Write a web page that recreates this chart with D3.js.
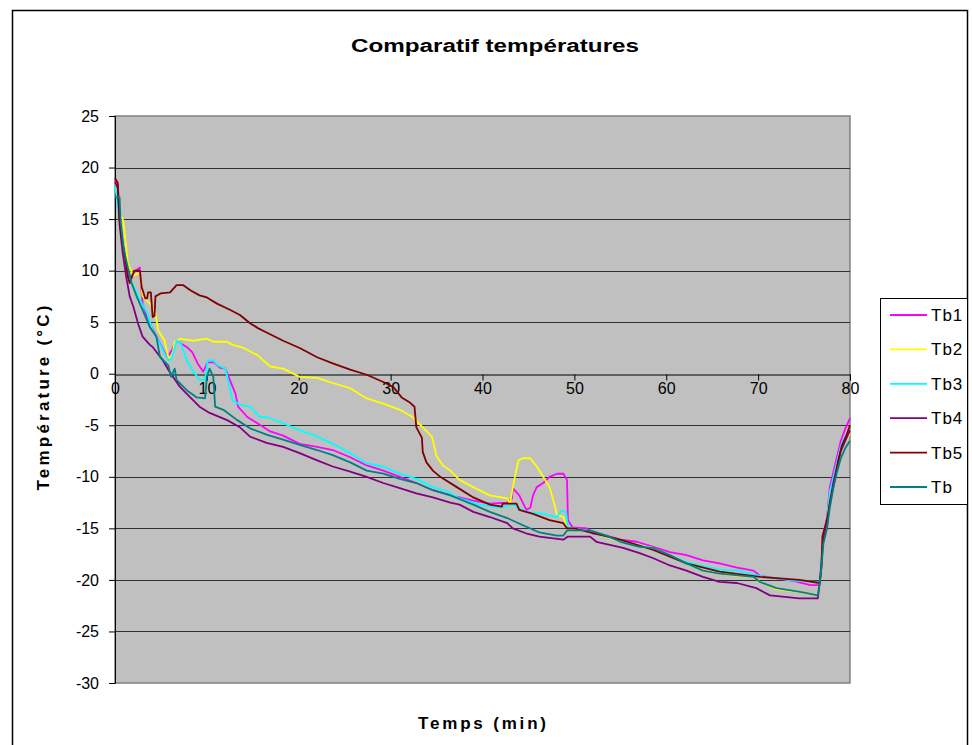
<!DOCTYPE html>
<html><head><meta charset="utf-8">
<script src="https://cdn.jsdelivr.net/npm/d3@7"></script>
<style>
html,body{margin:0;padding:0;background:#fff;}
svg{display:block;font-family:"Liberation Sans",Arial,sans-serif;}
</style></head>
<body>
<svg id="chart" width="972" height="745"></svg>
<script>
// ---- data (time in min, temperature in °C) ----
const seriesNames = ["Tb1","Tb2","Tb3","Tb4","Tb5","Tb"];
const seriesColors = ["#FF00FF","#FFFF00","#00FFFF","#800080","#800000","#008080"];
const xTicks = [0,10,20,30,40,50,60,70,80];
const yTicks = [25,20,15,10,5,0,-5,-10,-15,-20,-25,-30];

const tb1 = [[0,18.8],[0.3,18.3],[0.5,15],[0.9,12.5],[1.3,10],[1.6,9],[2.0,9.8],[2.7,10.3],[3.0,6.8],[3.5,5.5],[4.0,4.5],[4.9,2.9],[5.7,1.6],[6.2,2.3],[6.7,3.2],[7.8,2.6],[8.4,2.1],[9.0,1.0],[9.6,0.2],[10.1,1.1],[10.8,1.1],[11.4,0.6],[12.0,0.5],[12.5,-0.6],[13.1,-1.9],[13.4,-3.2],[14.4,-4.2],[15.5,-4.8],[16.9,-5.6],[18.3,-6.0],[20.1,-6.8],[22,-7.1],[23.7,-7.4],[25.6,-8.1],[27.4,-8.9],[29.2,-9.4],[31,-10],[32.8,-10.6],[34.6,-11.3],[37,-11.9],[39,-12.3],[40.8,-12.6],[42.7,-12.5],[43.2,-12.1],[43.3,-11.1],[44,-11.8],[44.6,-12.9],[44.8,-13.2],[45.2,-13],[45.5,-11.8],[45.9,-11],[46.6,-10.6],[47.3,-10],[48.1,-9.7],[48.8,-9.7],[49.2,-10.3],[49.3,-14.2],[49.8,-14.9],[51.4,-15],[52,-15.5],[53.5,-15.7],[55,-16.1],[56.8,-16.3],[58.6,-16.8],[60.4,-17.3],[62.2,-17.6],[64,-18.1],[65.8,-18.4],[67.7,-18.8],[69.5,-19.1],[70.2,-19.6],[72.4,-19.9],[73.8,-20.1],[75.7,-20.5],[76.7,-20.5],[76.9,-18],[77.1,-15.5],[77.5,-14],[77.8,-11],[78.2,-9.5],[78.6,-8],[79,-6.5],[79.5,-5.3],[80,-4.3]];

const tb2 = [[0,18.5],[0.3,18],[0.5,15.5],[0.9,14.9],[1.4,10.7],[2,9.5],[2.7,9.8],[3.0,7.5],[3.8,6.8],[4.4,5.9],[4.7,4.2],[5.4,3.2],[5.8,1.6],[6.2,1.5],[6.5,3.1],[7.1,3.4],[8.5,3.2],[10,3.4],[10.7,3.1],[12.2,3.1],[12.8,2.8],[14,2.5],[15.5,1.8],[16.9,0.7],[18.3,0.5],[20.1,-0.3],[22,-0.4],[23.7,-0.9],[25.6,-1.4],[27.4,-2.4],[29.2,-2.9],[31,-3.5],[32.4,-4.2],[33.5,-5.2],[34.5,-6.1],[35,-8.0],[35.7,-8.9],[36.5,-9.4],[37.5,-10.3],[39,-11],[40.8,-11.8],[42.7,-12.1],[43,-12.6],[43.3,-11],[43.9,-8.4],[44.4,-8.2],[45.2,-8.2],[45.9,-9],[46.6,-10],[47.3,-11],[47.9,-12.9],[48.1,-13.7],[48.8,-13.9],[49.2,-14.9],[50,-15],[52,-15.4],[55,-16.3],[58.6,-16.9],[60.4,-17.6],[62.2,-18.4],[64,-19.1],[65.8,-19.4],[67.7,-19.6],[69.5,-19.7],[70.2,-20.2],[72,-20.9],[74.9,-21.2],[76.5,-21.5],[76.8,-19.7],[77.1,-16],[77.5,-14.5],[77.8,-12],[78.2,-10.5],[78.6,-9],[79,-7.5],[79.5,-6.5],[80,-5.8]];

const tb3 = [[0,18.3],[0.5,15],[0.9,12],[1.3,9.5],[2,8.5],[2.5,7.5],[3.5,5.9],[4.1,4.2],[5.2,2.3],[5.8,1.3],[6.2,1.5],[6.7,3.2],[7.2,2.9],[7.8,1.3],[8.4,0.4],[9.2,-0.6],[9.8,-0.6],[10.1,1.3],[10.7,1.3],[11.2,0.8],[12,0.5],[12.3,-0.6],[12.8,-2.6],[13.6,-3],[14.7,-3.2],[15.8,-4.2],[16.5,-4.2],[18.3,-4.8],[20.1,-5.5],[22,-6.1],[23.7,-6.8],[25.6,-7.7],[27.4,-8.7],[29.2,-9],[31,-9.7],[32.8,-10.2],[34.6,-11],[36.1,-11.4],[37.5,-12.1],[39.7,-12.7],[41.9,-13],[43.3,-12.7],[44.8,-13.4],[46.6,-13.6],[48.1,-13.9],[48.6,-13.3],[49.1,-13.4],[49.3,-14.9],[50,-15],[52,-15.4],[55,-16.2],[58.6,-17],[62.2,-18.3],[65.8,-19],[67.7,-19.1],[70.2,-19.6],[72.4,-19.9],[74.2,-20.1],[76.7,-20.2],[76.9,-18],[77.1,-15.6],[77.5,-14.2],[77.8,-11.5],[78.2,-10],[78.6,-8.5],[79,-7],[79.5,-6],[80,-5.5]];

const tb4 = [[0,18.6],[0.3,18],[0.5,14.5],[0.8,12],[1.2,9.5],[1.6,7.5],[2,6.5],[2.5,4.9],[3,3.6],[3.8,2.8],[4.1,2.6],[5.2,1.3],[6,0.1],[7.1,-1.3],[8.2,-2.3],[9.2,-3.2],[10.3,-3.8],[12.2,-4.5],[13.6,-5.2],[14.7,-6.1],[16.5,-6.7],[18.3,-7.1],[20.1,-7.7],[22,-8.4],[23.7,-9],[25.6,-9.5],[27.4,-10],[29.2,-10.6],[31,-11.1],[32.8,-11.6],[34.6,-12],[36.5,-12.5],[37.5,-12.7],[39,-13.4],[40.8,-13.9],[42.7,-14.5],[43.3,-15],[44.8,-15.5],[46.2,-15.8],[48.8,-16.1],[49.3,-15.8],[51.7,-15.8],[52.4,-16.3],[55.3,-16.9],[57.1,-17.4],[58.6,-17.9],[60.4,-18.6],[62.2,-19.1],[64,-19.7],[65.8,-20.2],[67.7,-20.3],[69.8,-20.8],[71.3,-21.5],[74.5,-21.8],[76.5,-21.8],[76.8,-19.5],[77.1,-16],[77.5,-14.8],[77.8,-12.5],[78.2,-10.5],[78.6,-9],[79,-7.5],[79.5,-6.5],[80,-5.5]];

const tb5 = [[0,19],[0.3,18.5],[0.5,14.9],[0.7,13.3],[1.1,11.3],[1.4,9.4],[1.6,8.8],[2.1,10],[2.7,10],[2.9,8.4],[3.3,7.3],[3.5,7.3],[3.6,7.9],[3.9,7.9],[4.1,5.5],[4.3,5.6],[4.4,7.5],[5,7.8],[6,7.9],[6.7,8.6],[7.4,8.6],[8.2,8.1],[9.2,7.6],[10,7.4],[11.1,6.8],[12.5,6.2],[13.6,5.7],[14.7,4.9],[15.6,4.4],[16.5,4],[18.3,3.2],[20.1,2.5],[22,1.6],[23.7,1],[25.6,0.4],[27.4,-0.1],[29.2,-0.8],[30.3,-1.3],[31.2,-2.3],[32.1,-2.8],[32.6,-3.2],[32.8,-5.2],[33.4,-6.2],[33.5,-7.6],[33.9,-8.6],[34.6,-9.4],[35.4,-10],[37.2,-11],[39,-12],[40.8,-12.7],[42.1,-12.9],[42.2,-12.6],[43.7,-12.6],[44,-13.2],[45.5,-13.6],[47.3,-14.2],[48.8,-14.5],[49.2,-15],[50,-15],[51.7,-15.4],[55,-16.1],[58.6,-17.1],[62.2,-18.4],[65.8,-19.2],[70.2,-19.7],[71.6,-19.8],[74.5,-20],[76.7,-20.3],[76.9,-18.7],[77,-15.8],[77.4,-14.5],[77.7,-13.2],[77.9,-12.2],[78.3,-10.5],[78.7,-8.5],[79.1,-7],[79.6,-6],[80,-5]];

const tb = [[0,17.1],[0.5,17.1],[0.6,14.9],[0.9,12.3],[1.3,10.7],[1.8,8.8],[2.4,7.4],[3,6.2],[3.8,4.5],[4.5,3.6],[4.9,1.6],[5.8,0.8],[6.1,-0.3],[6.5,0.5],[6.7,-0.6],[7.8,-1.6],[8.9,-2.3],[9.8,-2.4],[10,-0.3],[10.3,0.5],[10.7,-0.3],[10.9,-3.2],[11.8,-3.5],[13.3,-4.5],[14.7,-5.3],[16.5,-5.9],[18.3,-6.4],[20.1,-6.9],[22,-7.4],[23.7,-7.9],[25.6,-8.6],[27.4,-9.4],[29.2,-9.7],[31,-10.2],[32.8,-10.6],[34.6,-11.3],[36.5,-11.8],[39,-12.7],[40.8,-13.4],[42.7,-14],[44.4,-14.7],[46.2,-15.4],[48.1,-15.7],[48.8,-15.7],[49.2,-15.2],[51.7,-15.2],[53.5,-15.7],[55,-16.3],[57.1,-16.8],[58.6,-16.9],[60.4,-17.6],[62.2,-18.4],[64,-19.1],[65.8,-19.4],[69.5,-19.7],[70.2,-20.2],[72,-20.8],[74.9,-21.2],[76.5,-21.5],[76.8,-19.7],[77.1,-16.5],[77.5,-15],[77.8,-13],[78.2,-11],[78.6,-9.5],[79,-8.2],[79.5,-7.2],[80,-6.5]];

const seriesData = [tb1, tb2, tb3, tb4, tb5, tb];

// ---- drawing ----
const svg = d3.select("#chart");
const plot = {left:115, right:850, top:116, bottom:683};
const x = d3.scaleLinear().domain([0,80]).range([plot.left, plot.right]);
const y = d3.scaleLinear().domain([-30,25]).range([plot.bottom, plot.top]);

// outer chart border
svg.append("rect").attr("x",12.5).attr("y",10.5).attr("width",955).attr("height",760)
  .attr("fill","#fff").attr("stroke","#000").attr("stroke-width",1.5);

// plot area
svg.append("rect").attr("x",plot.left).attr("y",plot.top)
  .attr("width",plot.right-plot.left).attr("height",plot.bottom-plot.top)
  .attr("fill","#C0C0C0").attr("stroke","#808080").attr("stroke-width",1.5);

// gridlines
svg.append("g").selectAll("line").data(yTicks.filter(v=>v!==25 && v!==-30 && v!==0)).join("line")
  .attr("x1",plot.left).attr("x2",plot.right)
  .attr("y1",d=>Math.round(y(d))+0.5).attr("y2",d=>Math.round(y(d))+0.5)
  .attr("stroke","#303030").attr("stroke-width",1);

// y axis
const yAxis = d3.axisLeft(y).tickValues(yTicks).tickSize(6).tickPadding(10).tickFormat(d=>String(d));
const gy = svg.append("g").attr("transform",`translate(${plot.left},0)`).call(yAxis);
gy.select(".domain").attr("stroke","#000");
gy.selectAll(".tick line").attr("stroke","#000");
gy.selectAll("text").attr("font-size",16).attr("fill","#000").attr("font-family","Liberation Sans, Arial, sans-serif");

// x axis at y = 0
const xAxis = d3.axisBottom(x).tickValues(xTicks).tickSize(6).tickPadding(2).tickFormat(d=>String(d));
const gx = svg.append("g").attr("transform",`translate(0,${Math.round(y(0))+0.5})`).call(xAxis);
gx.select(".domain").attr("stroke","#000");
gx.selectAll(".tick line").attr("stroke","#000");
gx.selectAll("text").attr("font-size",16).attr("fill","#000").attr("font-family","Liberation Sans, Arial, sans-serif");

// series lines
const line = d3.line().x(d=>x(d[0])).y(d=>y(d[1])).curve(d3.curveLinear);
svg.append("g").selectAll("path").data(seriesData).join("path")
  .attr("d",line).attr("fill","none")
  .attr("stroke",(d,i)=>seriesColors[i]).attr("stroke-width",1.8)
  .attr("stroke-linejoin","round");

// titles
svg.append("text").attr("x",495).attr("y",52).attr("text-anchor","middle")
  .attr("font-size",18).attr("font-weight","bold")
  .attr("textLength",288).attr("lengthAdjust","spacingAndGlyphs")
  .text("Comparatif températures");
svg.append("text").attr("x",482).attr("y",729).attr("text-anchor","middle")
  .attr("font-size",17).attr("font-weight","bold")
  .attr("textLength",128).attr("lengthAdjust","spacing")
  .text("Temps (min)");
svg.append("text").attr("transform","translate(49,398) rotate(-90)").attr("text-anchor","middle")
  .attr("font-size",17).attr("font-weight","bold")
  .attr("textLength",185).attr("lengthAdjust","spacing")
  .text("Température (°C)");

// legend
const leg = svg.append("g");
leg.append("rect").attr("x",880.5).attr("y",298.5).attr("width",87).attr("height",206)
  .attr("fill","#fff").attr("stroke","#000").attr("stroke-width",1);
const legY = d3.scalePoint().domain(seriesNames).range([315,487]);
const items = leg.selectAll("g.item").data(seriesNames).join("g").attr("class","item")
  .attr("transform",d=>`translate(0,${legY(d)})`);
items.append("line").attr("x1",890).attr("x2",927).attr("y1",0).attr("y2",0)
  .attr("stroke",(d,i)=>seriesColors[i]).attr("stroke-width",1.8);
items.append("text").attr("x",931).attr("y",6).attr("font-size",17).attr("letter-spacing",1).text(d=>d);
</script>
</body></html>
